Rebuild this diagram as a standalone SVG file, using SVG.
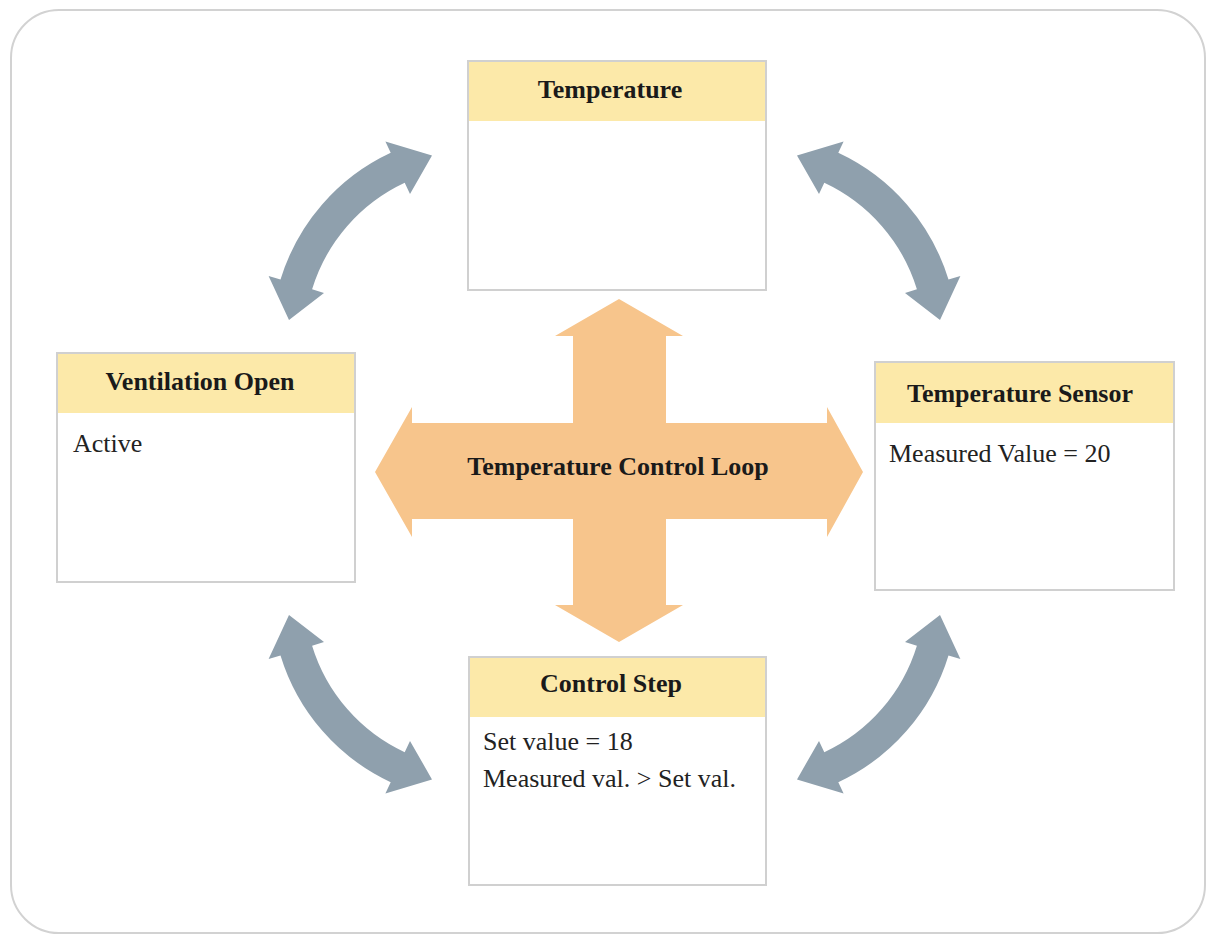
<svg xmlns="http://www.w3.org/2000/svg" width="1208" height="936" viewBox="0 0 1208 936">
<style>
.frame{fill:#ffffff;stroke:#d2d2d2;stroke-width:2}
.box{fill:#ffffff;stroke:#d0d0d0;stroke-width:2}
.hdr{fill:#fce9a9}
.ht{font-family:"Liberation Serif",serif;font-weight:bold;font-size:26px;fill:#1a1a1a;text-anchor:middle}
.bt{font-family:"Liberation Serif",serif;font-size:26px;fill:#222222}
.curve{fill:#8fa0ad}
.cross{fill:#f7c58c}
.ct{font-family:"Liberation Serif",serif;font-weight:bold;font-size:26px;fill:#1a1a1a;text-anchor:middle}
</style>
<rect width="1208" height="936" fill="#ffffff"/>
<rect class="frame" x="11" y="10" width="1194" height="923" rx="48" ry="48"/>

<g id="connectors">
  <path id="arrow-tl" class="curve" d="M289.0,320.1 L268.6,276.0 L280.5,279.6 A206.5,206.5 0 0 1 390.7,152.8 L385.4,141.5 L432.0,155.6 L410.0,194.1 L404.7,182.8 A173.5,173.5 0 0 0 312.1,289.3 L324.0,292.9 Z"/>
  <path id="arrow-tr" class="curve" d="M797.0,155.6 L843.6,141.5 L838.3,152.8 A206.5,206.5 0 0 1 948.5,279.6 L960.4,276.0 L940.0,320.1 L905.0,292.9 L916.9,289.3 A173.5,173.5 0 0 0 824.3,182.8 L819.0,194.1 Z"/>
  <path id="arrow-br" class="curve" d="M940.0,614.9 L960.4,659.0 L948.5,655.4 A206.5,206.5 0 0 1 838.3,782.2 L843.6,793.5 L797.0,779.4 L819.0,740.9 L824.3,752.2 A173.5,173.5 0 0 0 916.9,645.7 L905.0,642.1 Z"/>
  <path id="arrow-bl" class="curve" d="M432.0,779.4 L385.4,793.5 L390.7,782.2 A206.5,206.5 0 0 1 280.5,655.4 L268.6,659.0 L289.0,614.9 L324.0,642.1 L312.1,645.7 A173.5,173.5 0 0 0 404.7,752.2 L410.0,740.9 Z"/>
</g>

<g id="control-loop">
  <path class="cross" d="M619,299 L683,336 L666,336 L666,423 L827,423 L827,407 L863,472 L827,537 L827,519 L666,519 L666,605 L683,605 L619,642 L555,605 L573,605 L573,519 L412,519 L412,537 L375,472 L412,407 L412,423 L573,423 L573,336 L555,336 Z"/>
  <text class="ct" x="618" y="475">Temperature Control Loop</text>
</g>

<g id="temperature">
  <rect class="box" x="468" y="61" width="298" height="229"/>
  <rect class="hdr" x="469" y="62" width="296" height="59"/>
  <text class="ht" x="610" y="98">Temperature</text>
</g>

<g id="ventilation-open">
  <rect class="box" x="57" y="353" width="298" height="229"/>
  <rect class="hdr" x="58" y="354" width="296" height="59"/>
  <text class="ht" x="200" y="390">Ventilation Open</text>
  <text class="bt" x="73" y="452">Active</text>
</g>

<g id="temperature-sensor">
  <rect class="box" x="875" y="362" width="299" height="228"/>
  <rect class="hdr" x="876" y="363" width="297" height="60"/>
  <text class="ht" x="1020" y="402">Temperature Sensor</text>
  <text class="bt" x="889" y="462">Measured Value = 20</text>
</g>

<g id="control-step">
  <rect class="box" x="469" y="657" width="297" height="228"/>
  <rect class="hdr" x="470" y="658" width="295" height="59"/>
  <text class="ht" x="611" y="692">Control Step</text>
  <text class="bt" x="483" y="750">Set value = 18</text>
  <text class="bt" x="483" y="787">Measured val. &gt; Set val.</text>
</g>
</svg>
